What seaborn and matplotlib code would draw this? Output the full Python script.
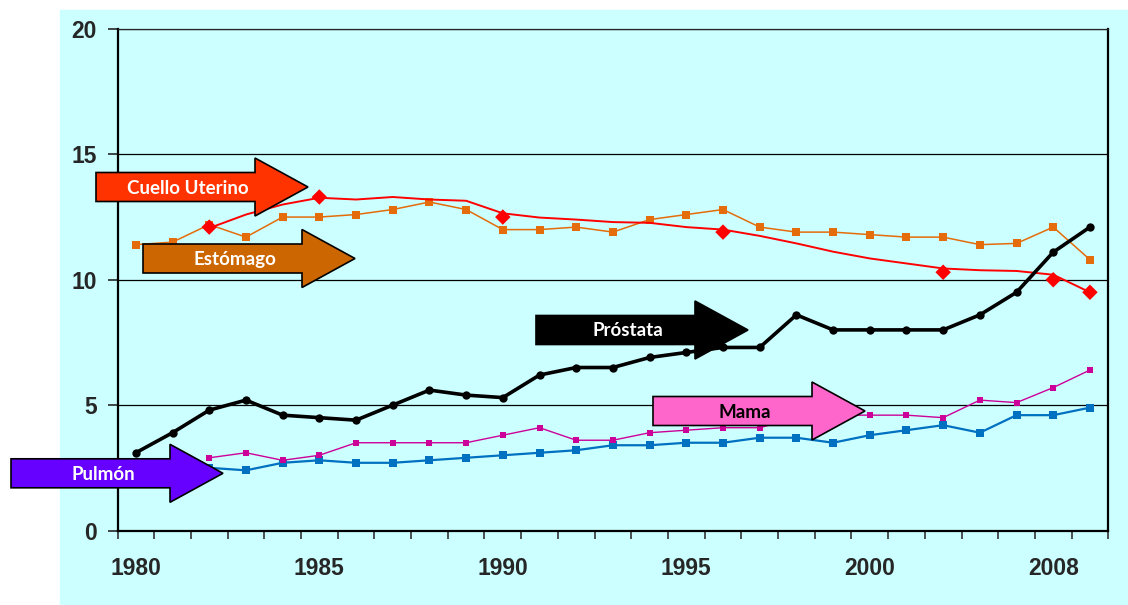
import numpy as np
import pandas as pd
import matplotlib
matplotlib.use("Agg")
import matplotlib.pyplot as plt
from matplotlib.patches import Polygon, Rectangle
import seaborn as sns

# ---------------------------------------------------------------
# Datos (tasas por categoría/año)
# ---------------------------------------------------------------
anios = ["1980", "1981", "1982", "1983", "1984", "1985", "1986", "1987", "1988",
         "1989", "1990", "1991", "1992", "1993", "1994", "1995", "1996", "1997",
         "1998", "1999", "2000", "2001", "2002", "2004", "2006", "2008", "2009"]

prostata = [3.1, 3.9, 4.8, 5.2, 4.6, 4.5, 4.4, 5.0, 5.6, 5.4, 5.3, 6.2, 6.5, 6.5,
            6.9, 7.1, 7.3, 7.3, 8.6, 8.0, 8.0, 8.0, 8.0, 8.6, 9.5, 11.1, 12.1]

estomago = [11.4, 11.5, 12.2, 11.7, 12.5, 12.5, 12.6, 12.8, 13.1, 12.8, 12.0, 12.0,
            12.1, 11.9, 12.4, 12.6, 12.8, 12.1, 11.9, 11.9, 11.8, 11.7, 11.7, 11.4,
            11.45, 12.1, 10.8]

# línea continua de cuello uterino y puntos (rombos) de las estimaciones
cuello_linea = [np.nan, np.nan, 12.06, 12.6, 13.0, 13.27, 13.2, 13.3, 13.2, 13.15,
                12.65, 12.48, 12.4, 12.3, 12.27, 12.1, 12.0, 11.75, 11.45, 11.12,
                10.85, 10.65, 10.45, 10.38, 10.35, 10.2, 9.5]
cuello_puntos = [np.nan, np.nan, 12.1, np.nan, np.nan, 13.3, np.nan, np.nan, np.nan,
                 np.nan, 12.5, np.nan, np.nan, np.nan, np.nan, np.nan, 11.9, np.nan,
                 np.nan, np.nan, np.nan, np.nan, 10.3, np.nan, np.nan, 10.0, 9.5]

mama = [np.nan, np.nan, 2.9, 3.1, 2.8, 3.0, 3.5, 3.5, 3.5, 3.5, 3.8, 4.1, 3.6, 3.6,
        3.9, 4.0, 4.1, 4.1, 4.5, 4.6, 4.6, 4.6, 4.5, 5.2, 5.1, 5.7, 6.4]

pulmon = [np.nan, np.nan, 2.5, 2.4, 2.7, 2.8, 2.7, 2.7, 2.8, 2.9, 3.0, 3.1, 3.2, 3.4,
          3.4, 3.5, 3.5, 3.7, 3.7, 3.5, 3.8, 4.0, 4.2, 3.9, 4.6, 4.6, 4.9]

df = pd.DataFrame({
    "pos": np.arange(len(anios)),
    "Próstata": prostata,
    "Estómago": estomago,
    "Cuello": cuello_linea,
    "CuelloPts": cuello_puntos,
    "Mama": mama,
    "Pulmón": pulmon,
})

CIAN = "#CCFFFF"

# ---------------------------------------------------------------
# Figura
# ---------------------------------------------------------------
sns.set_style("ticks")
plt.rcParams["font.family"] = ["Liberation Sans", "DejaVu Sans"]

W, H = 1128, 605
fig = plt.figure(figsize=(W / 100, H / 100), dpi=100, facecolor="white")

# fondo cian del área del gráfico
fig.add_artist(Rectangle((60 / W, 0), 1 - 60 / W, (H - 10) / H,
                         transform=fig.transFigure, color=CIAN, zorder=-1))

L, R, T, B = 117.5, 1108.3, 29, 530.5
ax = fig.add_axes([L / W, (H - B) / H, (R - L) / W, (B - T) / H])
ax.set_facecolor(CIAN)

# series
sns.lineplot(data=df, x="pos", y="Pulmón", ax=ax, color="#0070C0", lw=1.6,
             marker="s", ms=5.5, mew=0)
sns.lineplot(data=df, x="pos", y="Mama", ax=ax, color="#CC0099", lw=1.0,
             marker="s", ms=5.0, mew=0)
sns.lineplot(data=df, x="pos", y="Estómago", ax=ax, color="#E46C0A", lw=1.1,
             marker="s", ms=5.5, mew=0)
sns.lineplot(data=df, x="pos", y="Cuello", ax=ax, color="#FF0000", lw=1.4)
sns.scatterplot(data=df, x="pos", y="CuelloPts", ax=ax, color="#FF0000",
                marker="D", s=62, edgecolor="none", zorder=4)
sns.lineplot(data=df, x="pos", y="Próstata", ax=ax, color="black", lw=2.6,
             marker="o", ms=6, mew=0)

# ejes
ax.set_xlim(-0.5, len(anios) - 0.5)
ax.set_ylim(0, 20)
ax.set_xlabel("")
ax.set_ylabel("")
ax.set_yticks([0, 5, 10, 15, 20])
ax.set_xticks(np.arange(0, len(anios), 5))
ax.set_xticklabels(anios[::5])
ax.set_xticks(np.arange(-0.5, len(anios), 1), minor=True)
ax.tick_params(axis="x", which="major", length=0, pad=19, labelsize=16.5)
ax.tick_params(axis="x", which="minor", length=6, width=1.2, direction="out",
               color="#333333")
ax.tick_params(axis="y", which="major", length=7, width=1.2, pad=8, labelsize=16.5)
for lab in ax.get_xticklabels() + ax.get_yticklabels():
    lab.set_fontweight("bold")
ax.yaxis.grid(True, color="black", lw=0.9)
ax.set_axisbelow(True)
for s in ["left", "bottom", "right"]:
    ax.spines[s].set_linewidth(1.6)
    ax.spines[s].set_color("black")
ax.spines["top"].set_linewidth(0.9)

# ---------------------------------------------------------------
# Flechas con el nombre de cada tumor
# ---------------------------------------------------------------
ov = fig.add_axes([0, 0, 1, 1], zorder=5)
ov.set_xlim(0, W)
ov.set_ylim(H, 0)
ov.axis("off")

CUERPO, CABEZA_X, ALTO_C, ALTO_H = 159, 53, 29, 58

def flecha(x0, yc, fc, texto, tc):
    xb = x0 + CUERPO
    pts = [(x0, yc - ALTO_C / 2), (xb, yc - ALTO_C / 2), (xb, yc - ALTO_H / 2),
           (xb + CABEZA_X, yc), (xb, yc + ALTO_H / 2), (xb, yc + ALTO_C / 2),
           (x0, yc + ALTO_C / 2)]
    ov.add_patch(Polygon(pts, closed=True, fc=fc, ec="black", lw=1.2,
                         joinstyle="miter"))
    ov.text(x0 + 92, yc + 1, texto, color=tc, ha="center", va="center",
            fontsize=13.5, fontweight="bold", family=["Lato", "DejaVu Sans"])

flecha(96, 187, "#FF3300", "Cuello Uterino", "white")
flecha(143, 258.5, "#CC6600", "Estómago", "white")
flecha(536, 330, "black", "Próstata", "white")
flecha(653, 411, "#FF66CC", "Mama", "black")
flecha(11, 473.3, "#6600FF", "Pulmón", "white")

fig.savefig("out.png", dpi=100, facecolor="white")
